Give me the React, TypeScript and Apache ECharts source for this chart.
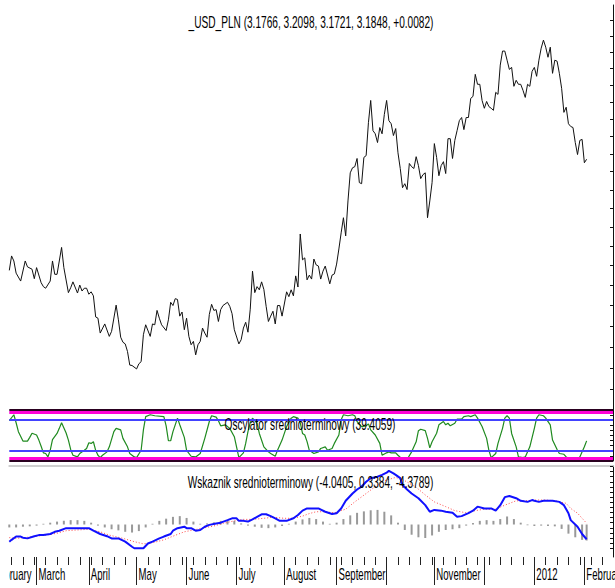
import React, { useEffect, useRef } from 'react';
import * as echarts from 'echarts';

// [trading day index, close]  (day 0 = 11 Feb 2011)
const priceData: [number, number][] = [
[0,2.888],[1,2.925],[2,2.912],[3,2.881],[5,2.861],[7,2.912],[8,2.897],[10,2.891],[11,2.867],[12,2.895],[14,2.857],[15,2.847],[16,2.843],[18,2.861],[19,2.912],[20,2.878],[21,2.878],[23,2.947],[24,2.895],[26,2.832],[27,2.844],[28,2.859],[30,2.831],[31,2.851],[32,2.836],[33,2.843],[34,2.843],[35,2.828],[36,2.834],[37,2.824],[38,2.772],[39,2.769],[40,2.733],[42,2.755],[44,2.725],[45,2.737],[47,2.801],[48,2.765],[49,2.723],[50,2.711],[51,2.707],[52,2.689],[53,2.657],[54,2.656],[56,2.648],[57,2.660],[58,2.665],[59,2.729],[60,2.753],[62,2.725],[63,2.755],[64,2.753],
[65,2.788],[66,2.769],[67,2.753],[69,2.739],[70,2.765],[71,2.808],[72,2.800],[73,2.817],[74,2.815],[75,2.774],[76,2.784],[77,2.741],[78,2.769],[79,2.725],[80,2.705],[81,2.713],[82,2.681],[83,2.705],[84,2.713],[85,2.745],[86,2.733],[87,2.723],[88,2.778],[89,2.803],[90,2.788],[91,2.790],[92,2.761],[93,2.790],[94,2.800],[96,2.808],[97,2.798],[98,2.780],[99,2.741],[101,2.707],[102,2.717],[103,2.745],[104,2.759],[105,2.735],[106,2.791],[107,2.886],[108,2.832],[109,2.847],[110,2.839],[111,2.859],[112,2.840],[113,2.798],[114,2.761],[115,2.774],[116,2.786],[117,2.755],[118,2.800],[119,2.800],[120,2.774],[122,2.834],[123,2.822],[124,2.839],[125,2.824],[126,2.874],[127,2.846],[128,2.982],[129,2.915],[130,2.920],
[131,2.864],[132,2.876],[133,2.866],[134,2.917],[135,2.902],[136,2.899],[137,2.866],[138,2.886],[139,2.899],[141,2.854],[142,2.876],[143,2.879],[144,2.904],[145,2.943],[146,2.985],[147,3.025],[148,2.977],[149,3.070],[150,3.147],[151,3.161],[152,3.164],[153,3.187],[154,3.120],[155,3.117],[156,3.190],[157,3.195],[158,3.289],[159,3.354],[160,3.266],[161,3.257],[162,3.232],[163,3.275],[164,3.257],[165,3.313],[166,3.354],[167,3.295],[168,3.286],[169,3.252],[170,3.272],[171,3.203],[172,3.159],[173,3.106],[174,3.117],[175,3.101],[176,3.173],[177,3.164],[178,3.159],[179,3.192],[180,3.167],[181,3.131],[182,3.142],[183,3.147],[184,3.025],[185,3.070],[186,3.120],[187,3.229],[188,3.190],[189,3.139],[190,3.167],[191,3.178],[192,3.145],[193,3.243],[194,3.243],
[195,3.187],[196,3.238],[197,3.266],[198,3.295],[199,3.304],[200,3.269],[201,3.304],[202,3.304],[203,3.360],[204,3.366],[205,3.432],[206,3.402],[207,3.402],[208,3.354],[209,3.331],[210,3.351],[211,3.336],[212,3.331],[213,3.325],[214,3.378],[215,3.372],[216,3.460],[217,3.503],[218,3.503],[219,3.475],[220,3.447],[221,3.453],[222,3.396],[223,3.414],[224,3.402],[225,3.402],[226,3.384],[227,3.363],[228,3.402],[229,3.396],[230,3.441],[231,3.453],[232,3.426],[233,3.475],[234,3.512],[235,3.537],[236,3.515],[237,3.484],[238,3.515],[239,3.435],[240,3.475],[241,3.472],[242,3.435],[243,3.390],[244,3.319],[245,3.334],[246,3.286],[247,3.278],[248,3.275],[249,3.232],[250,3.198],[251,3.238],[252,3.241],[253,3.175],[254,3.1848]
];

const oscData: [number, number][] = [
[0,79],[2,90.7],[3,75],[4,57.5],[6,39],[8,39],[9,46.4],[10,54.4],[12,51],[13,41],[14,29],[15,16],[16,14.7],[17,8],[18,21],[19,42],[21,54],[22,64],[23,75],[25,55],[26,41],[27,22.6],[28,11.3],[30,8],[31,14.7],[33,21],[34,24.6],[35,35.7],[36,34.5],[37,37.7],[38,21],[39,11.3],[40,6.7],[41,11.3],[43,17.9],[44,27.8],[46,57.5],[47,64],[49,61],[50,44.4],[52,27.8],[53,14.7],[55,8],[56,6.7],[58,21],[59,61],[60,87],[62,90.7],[64,88.7],[68,87],[69,69],[70,39.7],[71,39.7],[72,57.5],[74,84],[75,71],[77,46.4],[78,21],[80,9.3],[82,8],[84,14.7],[86,44.4],[88,77.4],[89,88.7],[91,86],[92,79],[93,69],[95,71],[97,64],[99,47.6],[101,6.7],[103,16],[104,34.5],[105,57.5],[106,75],[107,84],[109,74],[110,54],[112,27.8],[114,17.9],[115,14.7],[117,9.3],[118,21],[120,41],[122,67.5],[124,84],[125,87],[127,84],[128,75],[129,54],[130,51],[131,38],[132,21],[134,14.7],[136,17.9],[137,24.6],[139,27.8],[140,21],[142,24.6],[143,34.5],[145,51],[146,80.8],[147,90.7],[149,88.7],[151,90.7],[152,88.7],[153,77.4],[155,67.5],[157,69],[158,72.8],[159,61],[161,51],[163,34.5],[164,11.3],[166,16],[167,17.9],[168,16],[170,16],[171,11.3],[173,3],[175,3],[177,17.9],[179,37.7],[180,59.5],[181,62.3],[183,59.5],[184,44.4],[185,25.8],[186,37.7],[188,54.4],[189,71],[191,77.4],[192,71],[193,74],[194,69],[196,74],[197,82],[199,82],[200,87],[202,88.7],[203,87],[205,90.7],[206,84],[208,67.5],[210,44.4],[211,21],[212,6.7],[214,14.7],[215,34.5],[217,64],[218,84],[219,88.7],[220,84],[221,54],[223,27.8],[224,8],[226,6.7],[227,8],[229,27.8],[231,64],[232,84],[233,90.7],[235,88.7],[236,84],[238,71],[239,41],[241,22.6],[242,14.7],[244,13.2],[245,8],[247,3],[249,1],[251,8],[253,28],[254,39.4059]
];

const macdData: [number, number][] = [
[0,-4.7],[1,-4.2],[3,-3.3],[5,-3.3],[6,-3.6],[8,-3.8],[11,-3.2],[13,-2.9],[15,-2.9],[18,-2.6],[20,-2.0],[22,-1.7],[25,-1.0],[27,-1.0],[30,-1.0],[35,-1.0],[37,-1.7],[40,-2.6],[43,-3.2],[45,-3.8],[48,-3.8],[51,-4.7],[54,-6.1],[55,-6.5],[59,-6.5],[61,-5.2],[63,-4.7],[66,-3.8],[68,-3.3],[71,-2.6],[72,-1.7],[74,-1.0],[77,-0.6],[78,-1.0],[80,-1.0],[82,-1.7],[84,-1.5],[86,-0.6],[88,-0.1],[91,0.3],[93,0.5],[96,1.2],[98,1.7],[100,1.7],[101,1.0],[103,1.0],[105,0.8],[107,1.4],[109,2.1],[111,2.8],[113,2.8],[115,2.3],[117,1.7],[119,1.0],[122,1.0],[125,1.7],[127,2.6],[129,3.8],[131,4.4],[133,4.4],[136,4.4],[139,3.5],[142,2.9],[144,3.1],[146,4.4],[148,6.5],[151,8.5],[153,9.6],[155,10.4],[157,11.7],[159,12.7],[162,13.1],[164,13.6],[166,14.2],[167,14.7],[169,14.0],[170,13.6],[172,12.7],[173,10.8],[175,9.6],[177,8.5],[180,7.2],[183,5.3],[185,3.5],[187,4.0],[190,3.8],[192,3.5],[195,3.2],[197,2.1],[199,2.3],[202,3.1],[204,3.8],[206,4.9],[209,4.4],[212,4.4],[214,3.8],[216,5.3],[218,7.5],[220,7.8],[223,7.2],[225,6.5],[228,6.2],[230,6.7],[231,6.5],[233,6.2],[235,6.5],[239,6.5],[242,6.2],[244,5.3],[246,3.1],[247,1.2],[250,-0.6],[252,-2.6],[254,-4.0405]
];

const signalData: [number, number][] = [
[0,-3.6],[3,-3.8],[8,-3.5],[12,-3.2],[16,-2.9],[21,-2.4],[25,-1.7],[30,-1.5],[35,-1.3],[40,-2.0],[44,-2.9],[50,-3.8],[55,-4.7],[59,-5.3],[63,-5.0],[68,-4.2],[72,-3.2],[77,-2.0],[81,-1.5],[85,-1.0],[90,-0.4],[94,0.3],[99,1.0],[103,1.4],[107,1.4],[112,1.7],[116,2.0],[121,1.7],[125,1.7],[129,2.3],[132,3.0],[135,3.5],[139,3.5],[143,3.2],[148,4.2],[152,6.2],[157,8.5],[161,10.4],[165,12.0],[170,12.9],[174,12.0],[179,10.2],[183,8.1],[187,6.2],[192,4.9],[196,3.8],[201,3.2],[205,3.8],[209,4.2],[214,4.2],[218,5.3],[223,6.5],[227,6.5],[231,6.7],[236,6.7],[240,6.5],[245,5.8],[247,4.4],[250,3.1],[254,0.3384]
];

const histData: [number, number][] = [
[0,-0.8],[3,-0.8],[6,-0.6],[9,-0.5],[12,-0.3],[15,0.2],[18,0.5],[21,0.8],[24,1.0],[27,1.2],[30,1.2],[33,1.0],[36,0.5],[39,-0.3],[42,-0.8],[45,-1.3],[48,-1.6],[51,-2.0],[54,-2.2],[57,-1.8],[60,-0.8],[63,0.2],[66,1.0],[69,1.6],[72,2.1],[75,2.3],[78,1.8],[81,0.8],[84,0.2],[87,0.3],[90,0.6],[93,1.0],[96,1.2],[99,1.0],[102,0.3],[105,-0.3],[108,-0.6],[111,-0.9],[114,-1.0],[117,-0.8],[120,-0.4],[123,0.2],[126,0.8],[129,1.4],[132,1.8],[135,1.5],[138,0.8],[141,0.2],[144,0.5],[147,1.5],[150,2.5],[153,3.2],[156,3.6],[159,3.9],[162,4.0],[165,3.5],[168,2.5],[171,0.5],[174,-1.5],[177,-2.8],[180,-3.5],[183,-3.7],[186,-3.0],[189,-2.0],[192,-1.5],[195,-1.3],[198,-1.0],[201,-0.3],[204,0.4],[207,1.0],[210,1.2],[213,1.0],[216,1.5],[219,2.2],[222,1.5],[225,0.5],[228,-0.2],[231,-0.4],[234,-0.3],[237,-0.4],[240,-0.5],[243,-1.2],[246,-2.5],[249,-3.5],[252,-4.2],[254,-4.3789]
];

const monthStartDay = [-8, 12, 35, 56, 78, 100, 121, 144, 166, 187, 209, 231, 253];
const monthLabel = ['February', 'March', 'April', 'May', 'June', 'July', 'August', 'September', '', 'November', '', '2012', 'February'];
const weekStartDay = [1, 6, 11, 16, 21, 26, 31, 36, 41, 46, 51, 56, 61, 66, 71, 76, 81, 86, 91, 96, 101, 106, 111, 116, 121, 126, 131, 136, 141, 146, 151, 156, 161, 166, 171, 176, 181, 186, 191, 196, 201, 206, 211, 216, 221, 226, 231, 236, 241, 246, 251, 256, 261];
const priceTicks = [2.60, 2.65, 2.70, 2.75, 2.80, 2.85, 2.90, 2.95, 3.00, 3.05, 3.10, 3.15, 3.20, 3.25, 3.30, 3.35, 3.40, 3.45, 3.50, 3.55, 3.60];
const oscLevels = { outer: [0, 100], band: [5, 95], signal: [20, 80] };
const macdTicks = [-6.51, -5.11, -3.71, -2.31, -0.91, 0.49, 1.89, 3.29, 4.69, 6.09, 7.49, 8.89, 10.29, 11.69, 13.09, 14.49, 15.89];

const titleText = '_USD_PLN (3.1766, 3.2098, 3.1721, 3.1848, +0.0082)';
const oscText = 'Oscylator srednioterminowy (39.4059)';
const macdText = 'Wskaznik srednioterminowy (-4.0405, 0.3384, -4.3789)';

const FONT = '"Liberation Sans", Arial, sans-serif';

export default function App() {
  const ref = useRef<HTMLDivElement>(null);
  useEffect(() => {
    const chart = echarts.init(ref.current as HTMLDivElement, null, { renderer: 'svg' });
    const X_MIN = 0, X_MAX = 265.6;
    const LEFT = 9.3, RIGHT = 2;
    const hiddenX = (gi: number, extra: any = {}) => ({
      type: 'value', gridIndex: gi, min: X_MIN, max: X_MAX,
      axisTick: { show: false }, axisLabel: { show: false }, splitLine: { show: false },
      ...extra,
      axisLine: { onZero: false, show: false, ...(extra.axisLine || {}) },
    });
    const yAx = (gi: number, min: number, max: number, tick: any) => ({
      type: 'value', gridIndex: gi, position: 'right', min, max,
      axisLine: { show: true, onZero: false, lineStyle: { color: '#111', width: 1 } },
      axisTick: { show: true, inside: true, length: 3, lineStyle: { color: '#111' }, ...tick },
      axisLabel: { show: false }, splitLine: { show: false },
    });
    const lvl = (v: number, color: string, width: number) => ({ yAxis: v, lineStyle: { color, width, type: 'solid' } });
    const option: any = {
      animation: false,
      backgroundColor: '#fff',
      grid: [
        { left: LEFT, right: RIGHT, top: 5, height: 405 },
        { left: LEFT, right: RIGHT, top: 410, height: 51 },
        { left: LEFT, right: RIGHT, top: 466, height: 91 },
      ],
      xAxis: [
        hiddenX(0),
        hiddenX(1),
        hiddenX(2, { position: 'bottom', axisTick: { show: true, customValues: weekStartDay, length: 8, lineStyle: { color: '#222', width: 1 } } }),
        hiddenX(2, { position: 'bottom', axisTick: { show: true, customValues: monthStartDay, length: 28, lineStyle: { color: '#222', width: 1 } } }),
        hiddenX(2, { position: 'top', axisLine: { show: true, lineStyle: { color: '#cfcfcf', width: 2 } } }),
      ],
      yAxis: [
        yAx(0, Math.log(2.554), Math.log(3.648), { customValues: priceTicks.map((v) => Math.log(v)) }),
        { ...yAx(1, 0, 100, {}), interval: 10 },
        yAx(2, -8.9, 16.03, { customValues: macdTicks }),
      ],
      series: [
        { type: 'line', xAxisIndex: 0, yAxisIndex: 0, data: priceData.map(([d, p]) => [d, Math.log(p)]),
          showSymbol: false, symbol: 'none', lineStyle: { color: '#111', width: 1 }, z: 3 },
        { type: 'line', xAxisIndex: 1, yAxisIndex: 1, data: [], z: 1,
          markLine: { silent: true, symbol: 'none', label: { show: false }, animation: false,
            data: [
              lvl(oscLevels.outer[1], '#2a0020', 2), lvl(oscLevels.outer[0], '#2a0020', 2),
              lvl(oscLevels.band[1], '#ff00d8', 3), lvl(oscLevels.band[0], '#ff00d8', 3),
              lvl(oscLevels.signal[1], '#4242ff', 2), lvl(oscLevels.signal[0], '#4242ff', 2),
            ] } },
        { type: 'line', xAxisIndex: 1, yAxisIndex: 1, data: oscData, showSymbol: false, symbol: 'none',
          lineStyle: { color: '#1f8a1f', width: 1.2 }, z: 4 },
        { type: 'bar', xAxisIndex: 2, yAxisIndex: 2, data: histData, barWidth: 2,
          itemStyle: { color: '#999999' }, z: 2 },
        { type: 'line', xAxisIndex: 2, yAxisIndex: 2, data: signalData, showSymbol: false, symbol: 'none',
          lineStyle: { color: '#ff4a4a', width: 1, type: [1, 2] }, z: 3 },
        { type: 'line', xAxisIndex: 2, yAxisIndex: 2, data: macdData, showSymbol: false, symbol: 'none',
          lineStyle: { color: '#1010ff', width: 2 }, z: 4 },
      ],
    };
    chart.setOption(option);

    const px = (d: number) => chart.convertToPixel({ xAxisIndex: 2 } as any, d) as unknown as number;
    const txt = (text: string, x: number, y: number, align: string, sx: number, size = 16) => ({
      type: 'text', x, y, scaleX: sx, z: 50,
      style: { text, x: 0, y: 0, align, textAlign: align, verticalAlign: 'middle', textVerticalAlign: 'middle',
        fontSize: size, fontFamily: FONT, fill: '#000' },
    });
    const graphics: any[] = [
      txt(titleText, 311, 22.5, 'center', 0.633),
      txt(oscText, 310, 425, 'center', 0.633),
      txt(macdText, 310.5, 483, 'center', 0.633),
    ];
    monthStartDay.forEach((d, k) => {
      if (monthLabel[k]) graphics.push(txt(monthLabel[k], px(d) + 2, 575, 'left', 0.6));
    });
    graphics.push({ type: 'rect', shape: { x: 0, y: 562, width: 9, height: 26 }, style: { fill: '#fff' }, z: 60 });
    chart.setOption({ graphic: graphics });
    return () => chart.dispose();
  }, []);
  return <div ref={ref} style={{ position: 'fixed', left: 0, top: 0, width: 615, height: 588 }} />;
}
